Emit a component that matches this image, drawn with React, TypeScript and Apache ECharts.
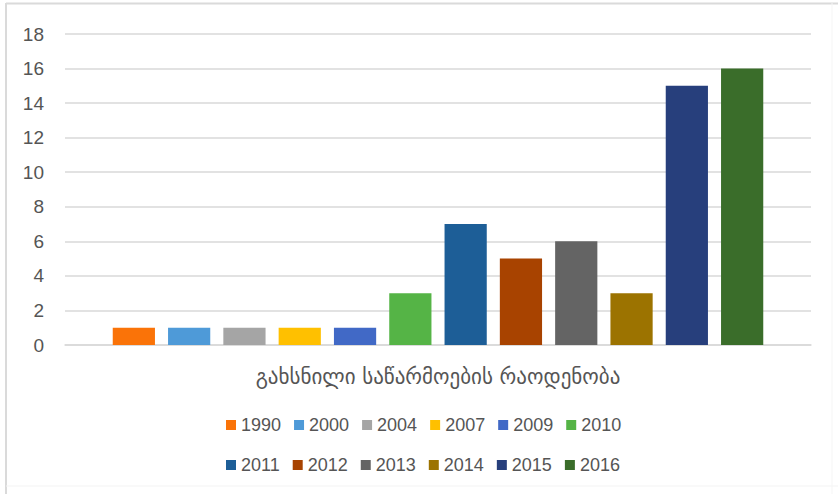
import React, { useEffect, useRef } from "react";
import * as echarts from "echarts";

const categories = ["გახსნილი საწარმოების რაოდენობა"];
const years = ["1990", "2000", "2004", "2007", "2009", "2010", "2011", "2012", "2013", "2014", "2015", "2016"];
const values = [1, 1, 1, 1, 1, 3, 7, 5, 6, 3, 15, 16];
const colors = [
  "#FA7308", "#4E9AD8", "#A5A5A5", "#FFC000", "#4169C6", "#55B446",
  "#1D5E97", "#A84300", "#646464", "#9C7300", "#273F7C", "#3A6D2A",
];
const yTicks = { min: 0, max: 18, interval: 2 };

export default function App() {
  const ref = useRef<HTMLDivElement>(null);
  useEffect(() => {
    if (!ref.current) return;
    const chart = echarts.init(ref.current, undefined, { renderer: "svg" });
    const font = "'Liberation Sans', Arial, 'DejaVu Sans', sans-serif";
    const legendText = { color: "#555555", fontSize: 18, fontFamily: font };
    chart.setOption({
      animation: false,
      backgroundColor: "#ffffff",
      color: colors,
      graphic: [
        { type: "line", shape: { x1: 6, y1: 3.5, x2: 838, y2: 3.5 }, style: { stroke: "#dadada", lineWidth: 2 } },
        { type: "line", shape: { x1: 6, y1: 3, x2: 6, y2: 494 }, style: { stroke: "#dadada", lineWidth: 2 } },
        { type: "line", shape: { x1: 6, y1: 486, x2: 838, y2: 486 }, style: { stroke: "#f3f3f3", lineWidth: 1 } },
        { type: "line", shape: { x1: 832, y1: 3, x2: 832, y2: 494 }, style: { stroke: "#f5f5f5", lineWidth: 1 } },
      ],
      grid: { left: 65, right: 27, top: 34, bottom: 149, containLabel: false },
      legend: [
        {
          data: years.slice(0, 6),
          left: 221,
          top: 411,
          icon: "rect",
          itemWidth: 10,
          itemHeight: 10,
          itemGap: 13,
          textStyle: legendText,
        },
        {
          data: years.slice(6),
          left: 221,
          top: 451,
          icon: "rect",
          itemWidth: 10,
          itemHeight: 10,
          itemGap: 13,
          textStyle: legendText,
        },
      ],
      xAxis: {
        type: "category",
        data: categories,
        axisLine: { show: true, lineStyle: { color: "#d9d9d9", width: 1.5 } },
        axisTick: { show: false },
        axisLabel: {
          color: "#555555",
          fontSize: 21,
          margin: 21,
          fontFamily: "'DejaVu Sans', sans-serif",
        },
      },
      yAxis: {
        type: "value",
        min: yTicks.min,
        max: yTicks.max,
        interval: yTicks.interval,
        axisLine: { show: false },
        axisTick: { show: false },
        splitLine: { lineStyle: { color: "#d9d9d9", width: 1.5 } },
        axisLabel: { color: "#555555", fontSize: 19, margin: 21, fontFamily: font },
      },
      series: years.map((y, i) => ({
        name: y,
        type: "bar",
        data: [values[i]],
        barCategoryGap: "12.8%",
        barGap: "31%",
        itemStyle: { color: colors[i] },
      })),
    });
    return () => chart.dispose();
  }, []);
  return (
    <div
      ref={ref}
      style={{ position: "absolute", left: 0, top: 0, width: 838, height: 494 }}
    />
  );
}
